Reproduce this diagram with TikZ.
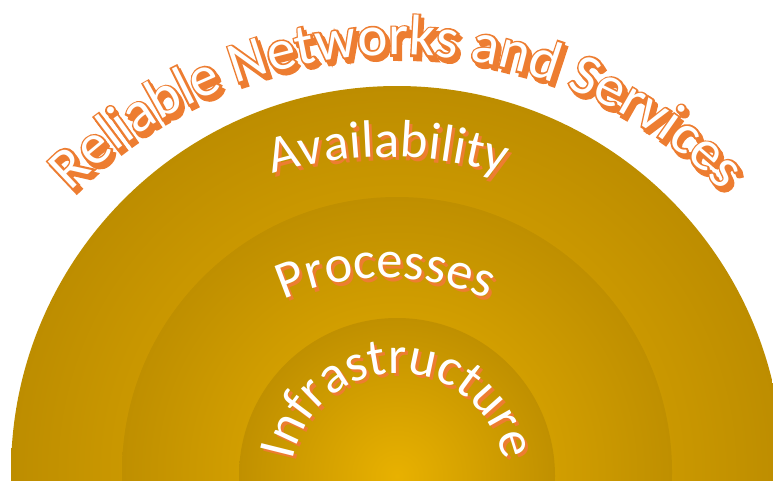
\documentclass[tikz,border=0pt]{standalone}
\usepackage{fontspec}
\usepackage{tikz}
\usetikzlibrary{decorations.text}
\newfontfamily\ringface{Carlito}
\newfontfamily\archface{Carlito}
\newfontfamily\archedgeface[FakeBold=7]{Carlito}
\newcommand{\ringfont}{\fontsize{39.5}{47}\ringface}
\newcommand{\archfont}{\fontsize{43}{51}\archface}
\newcommand{\archedgefont}{\fontsize{43}{51}\archedgeface}

\begin{document}
\begin{tikzpicture}[x=0.75pt,y=0.75pt,yscale=-1,xscale=1,
  ringtext/.style={decorate,decoration={text along path,text align=center,text color={#1}}}]
%set diagram left start at 0, and has height of 480
\path [use as bounding box] (0,0) rectangle (773,480);
\clip (0,0) rectangle (773,480);

%Shape: Circle [outer ring]
\shade [inner color={rgb, 255:red, 234; green, 178; blue, 0 }, outer color={rgb, 255:red, 189; green, 141; blue, 0 }] (397,472) circle (386);
%Shape: Circle [middle ring]
\shade [inner color={rgb, 255:red, 234; green, 178; blue, 0 }, outer color={rgb, 255:red, 191; green, 143; blue, 0 }] (397,472) circle (275);
%Shape: Circle [inner ring]
\shade [inner color={rgb, 255:red, 232; green, 177; blue, 0 }, outer color={rgb, 255:red, 192; green, 144; blue, 0 }] (397,476) circle (158);

% Text Node
\path [ringtext={rgb, 255:red, 237; green, 125; blue, 49 }, decoration={text={|\archedgefont|Reliable Networks and Services}}, shift={(3,4)}] (397,513) ++(220:458) arc [start angle=220, end angle=320, radius=458];
\path [ringtext={rgb, 255:red, 237; green, 125; blue, 49 }, decoration={text={|\archedgefont|Reliable Networks and Services}}] (397,513) ++(220:458) arc [start angle=220, end angle=320, radius=458];
\path [ringtext=white, decoration={text={|\archfont|Reliable Networks and Services}}] (397,513) ++(220:458) arc [start angle=220, end angle=320, radius=458];
% Text Node
\path [ringtext={rgb, 255:red, 237; green, 125; blue, 49 }, decoration={text={|\ringfont|Availability}}, shift={(3,3.5)}] (388,555) ++(240:398) arc [start angle=240, end angle=300, radius=398];
\path [ringtext=white, decoration={text={|\ringfont|Availability}}] (388,555) ++(240:398) arc [start angle=240, end angle=300, radius=398];
% Text Node
\path [ringtext={rgb, 255:red, 237; green, 125; blue, 49 }, decoration={text={|\ringfont|Processes}}, shift={(3,3.5)}] (386,530) ++(230:252) arc [start angle=230, end angle=310, radius=252];
\path [ringtext=white, decoration={text={|\ringfont|Processes}}] (386,530) ++(230:252) arc [start angle=230, end angle=310, radius=252];
% Text Node
\path [ringtext={rgb, 255:red, 237; green, 125; blue, 49 }, decoration={text={|\ringfont|Infrastructure}}, shift={(3,3.5)}] (398,480) ++(180:107) arc [start angle=180, end angle=360, radius=107];
\path [ringtext=white, decoration={text={|\ringfont|Infrastructure}}] (398,480) ++(180:107) arc [start angle=180, end angle=360, radius=107];

\end{tikzpicture}
\end{document}
